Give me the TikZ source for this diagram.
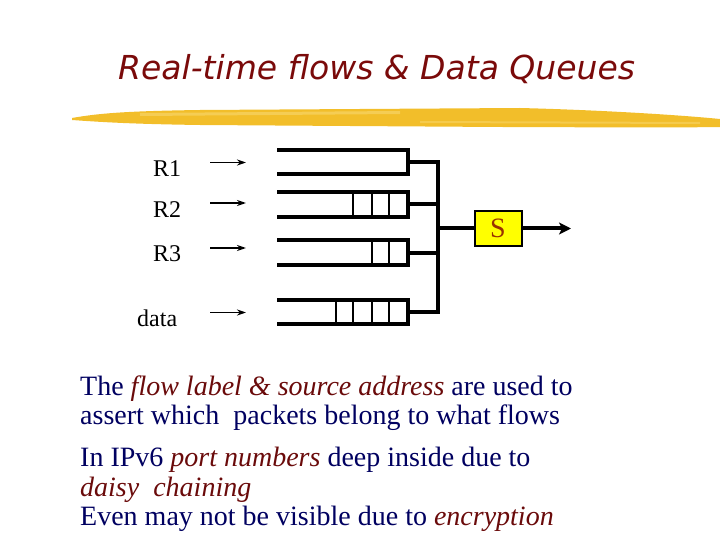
\documentclass[tikz,border=0pt]{standalone}
\usepackage{fontspec}
\setmainfont{Liberation Serif}
\newfontfamily\titlefont{DejaVu Sans}
\usetikzlibrary{arrows.meta}
\definecolor{titlered}{HTML}{7A0A0A}
\definecolor{bodyblue}{HTML}{000060}
\definecolor{emred}{HTML}{6A0A0A}
\definecolor{brushA}{HTML}{F2BE2A}
\definecolor{brushB}{HTML}{F8D870}
\definecolor{sfill}{HTML}{FFFF00}
\definecolor{scol}{HTML}{993300}
\tikzset{
  queue/.style={line width=4pt, line join=miter},
  cell/.style={line width=1.6pt},
  inarrow/.style={line width=1.8pt, -{Stealth[length=9pt,width=6pt]}},
  lbl/.style={anchor=base west, inner sep=0pt, font=\fontsize{24}{27}\selectfont},
  body/.style={anchor=base west, inner sep=0pt, text=bodyblue, font=\fontsize{28}{31}\selectfont},
}
\newcommand{\emr}[1]{\textcolor{emred}{\itshape #1}}
\begin{document}
\begin{tikzpicture}[x=1pt,y=-1pt]
\useasboundingbox (0,0) rectangle (720,540);
% title
\node[anchor=base west, inner sep=0pt, text=titlered, font=\titlefont\itshape\fontsize{33}{36}\selectfont] (title) at (118,80) {Real-time flows \& Data Queues};
% brush stroke
\fill[brushA] (72,118) .. controls (100,113) and (130,111) .. (200,110)
  -- (520,108) .. controls (600,110) and (680,115) .. (720,119)
  -- (720,127) .. controls (650,128) and (560,127) .. (500,127)
  -- (200,125) .. controls (130,124) and (100,122) .. (72,120) -- cycle;
\fill[brushB,opacity=0.6] (140,113) -- (400,111) -- (400,114) -- (140,116) -- cycle;
\fill[brushB,opacity=0.5] (420,121) -- (700,122) -- (700,124) -- (420,123) -- cycle;
% labels
\node[lbl] (lR1) at (153,177) {R1};
\node[lbl] (lR2) at (153,218) {R2};
\node[lbl] (lR3) at (153,261) {R3};
\node[lbl] (ldata) at (137,326) {data};
% arrow coordinates
\coordinate (a1s) at (210,162.5); \coordinate (a1e) at (246,162.5);
\coordinate (a2s) at (210,203);   \coordinate (a2e) at (246,203);
\coordinate (a3s) at (210,248);   \coordinate (a3e) at (246,248);
\coordinate (a4s) at (210,312.5); \coordinate (a4e) at (246,312.5);
\draw[inarrow] (a1s) -- (a1e);
\draw[inarrow] (a2s) -- (a2e);
\draw[inarrow] (a3s) -- (a3e);
\draw[inarrow] (a4s) -- (a4e);
% queues
\draw[queue] (277,150) -- (408,150) -- (408,174) -- (277,174);
\draw[queue] (277,192) -- (408,192) -- (408,217) -- (277,217);
\draw[queue] (277,240) -- (408,240) -- (408,265) -- (277,265);
\draw[queue] (277,300) -- (408,300) -- (408,324) -- (277,324);
% cells
\foreach \x in {353,372,389} \draw[cell] (\x,192) -- (\x,217);
\foreach \x in {372,389} \draw[cell] (\x,240) -- (\x,265);
\foreach \x in {336,353,372,389} \draw[cell] (\x,300) -- (\x,324);
% queue outputs and bus
\coordinate (q1) at (408,162); \coordinate (b1) at (438,162);
\coordinate (q2) at (408,204); \coordinate (b2) at (438,204);
\coordinate (q3) at (408,252.5); \coordinate (b3) at (438,252.5);
\coordinate (q4) at (408,312); \coordinate (b4) at (438,312);
\coordinate (bm) at (438,228.5);
\draw[queue] (q1) -- (b1);
\draw[queue] (q2) -- (b2);
\draw[queue] (q3) -- (b3);
\draw[queue] (q4) -- (b4);
\draw[queue, line cap=rect] (b1) -- (b4);
% scheduler
\node[draw=black, line width=2pt, fill=sfill, minimum width=47pt, minimum height=34pt, inner sep=0pt, text=scol, font=\fontsize{28}{30}\selectfont] (S) at (498,228.5) {S};
\coordinate (out) at (571,228.5);
\draw[queue] (bm) -- (S.west);
\draw[line width=4pt, -{Stealth[length=12pt,width=12pt,inset=3pt]}] (S.east) -- (out);
% body text
\node[body] (t1) at (80,395) {The \emr{flow label \& source address} are used to};
\node[body] (t2) at (80,424) {assert which\ \ packets belong to what flows};
\node[body] (t3) at (80,466) {In IPv6 \emr{port numbers} deep inside due to};
\node[body] (t4) at (80,496) {\emr{daisy\ \ chaining}};
\node[body] (t5) at (80,525) {Even may not be visible due to \emr{encryption}};
\end{tikzpicture}
\end{document}
